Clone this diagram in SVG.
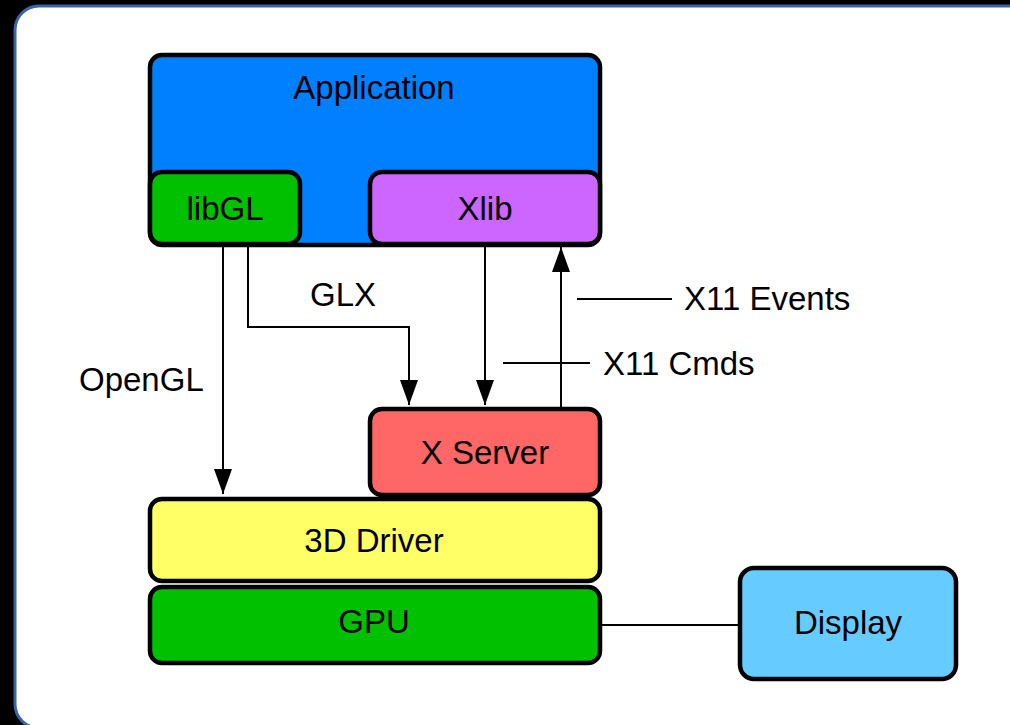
<svg xmlns="http://www.w3.org/2000/svg" width="1010" height="725" viewBox="0 0 1010 725">
<defs>
<style>
.n{stroke:#000;stroke-width:4.5}
.t{font-family:"Liberation Sans",Arial,sans-serif;font-size:33px;fill:#000}
.m{text-anchor:middle}
.c{fill:none;stroke:#000;stroke-width:2}
</style>
<marker id="a" markerUnits="userSpaceOnUse" markerWidth="26" markerHeight="20" viewBox="0 0 26 20" refX="25" refY="10" orient="auto">
<path d="M0,1 L25,10 L0,19 Z" fill="#000"/>
</marker>
</defs>
<rect x="0" y="0" width="1010" height="725" fill="#000"/>
<rect x="15" y="6" width="1020" height="722" rx="24" fill="#fff" stroke="#3a63a8" stroke-width="3"/>
<g id="connectors">
<line class="c" x1="223" y1="246" x2="223" y2="494" marker-end="url(#a)"/>
<polyline class="c" points="248,246 248,327 409,327 409,405" marker-end="url(#a)"/>
<line class="c" x1="485" y1="246" x2="485" y2="405" marker-end="url(#a)"/>
<line class="c" x1="561" y1="407" x2="561" y2="247" marker-end="url(#a)"/>
<line class="c" x1="577" y1="299" x2="672" y2="299"/>
<line class="c" x1="503" y1="363" x2="590" y2="363"/>
<line class="c" x1="600" y1="625" x2="740" y2="625"/>
</g>
<g id="application">
<rect class="n" x="150" y="55" width="450" height="190" rx="12" fill="#0080ff"/>
<text class="t m" x="374" y="99">Application</text>
</g>
<g id="libgl">
<rect class="n" x="150" y="172" width="150" height="72" rx="12" fill="#00c000"/>
<text class="t m" x="225" y="220">libGL</text>
</g>
<g id="xlib">
<rect class="n" x="370" y="172" width="230" height="72" rx="12" fill="#cc66ff"/>
<text class="t m" x="485" y="220">Xlib</text>
</g>
<g id="xserver">
<rect class="n" x="370" y="409" width="230" height="86" rx="12" fill="#ff6666"/>
<text class="t m" x="485" y="464">X Server</text>
</g>
<g id="driver">
<rect class="n" x="150" y="499" width="450" height="82" rx="12" fill="#ffff66"/>
<text class="t m" x="374" y="552">3D Driver</text>
</g>
<g id="gpu">
<rect class="n" x="150" y="587" width="450" height="76" rx="12" fill="#00c000"/>
<text class="t m" x="374" y="633">GPU</text>
</g>
<g id="display">
<rect class="n" x="740" y="568" width="216" height="111" rx="14" fill="#66ccff"/>
<text class="t m" x="848" y="634">Display</text>
</g>
<g id="labels">
<text class="t" x="310" y="306">GLX</text>
<text class="t" x="684" y="310">X11 Events</text>
<text class="t" x="603" y="375">X11 Cmds</text>
<text class="t" x="79" y="391">OpenGL</text>
</g>
</svg>
